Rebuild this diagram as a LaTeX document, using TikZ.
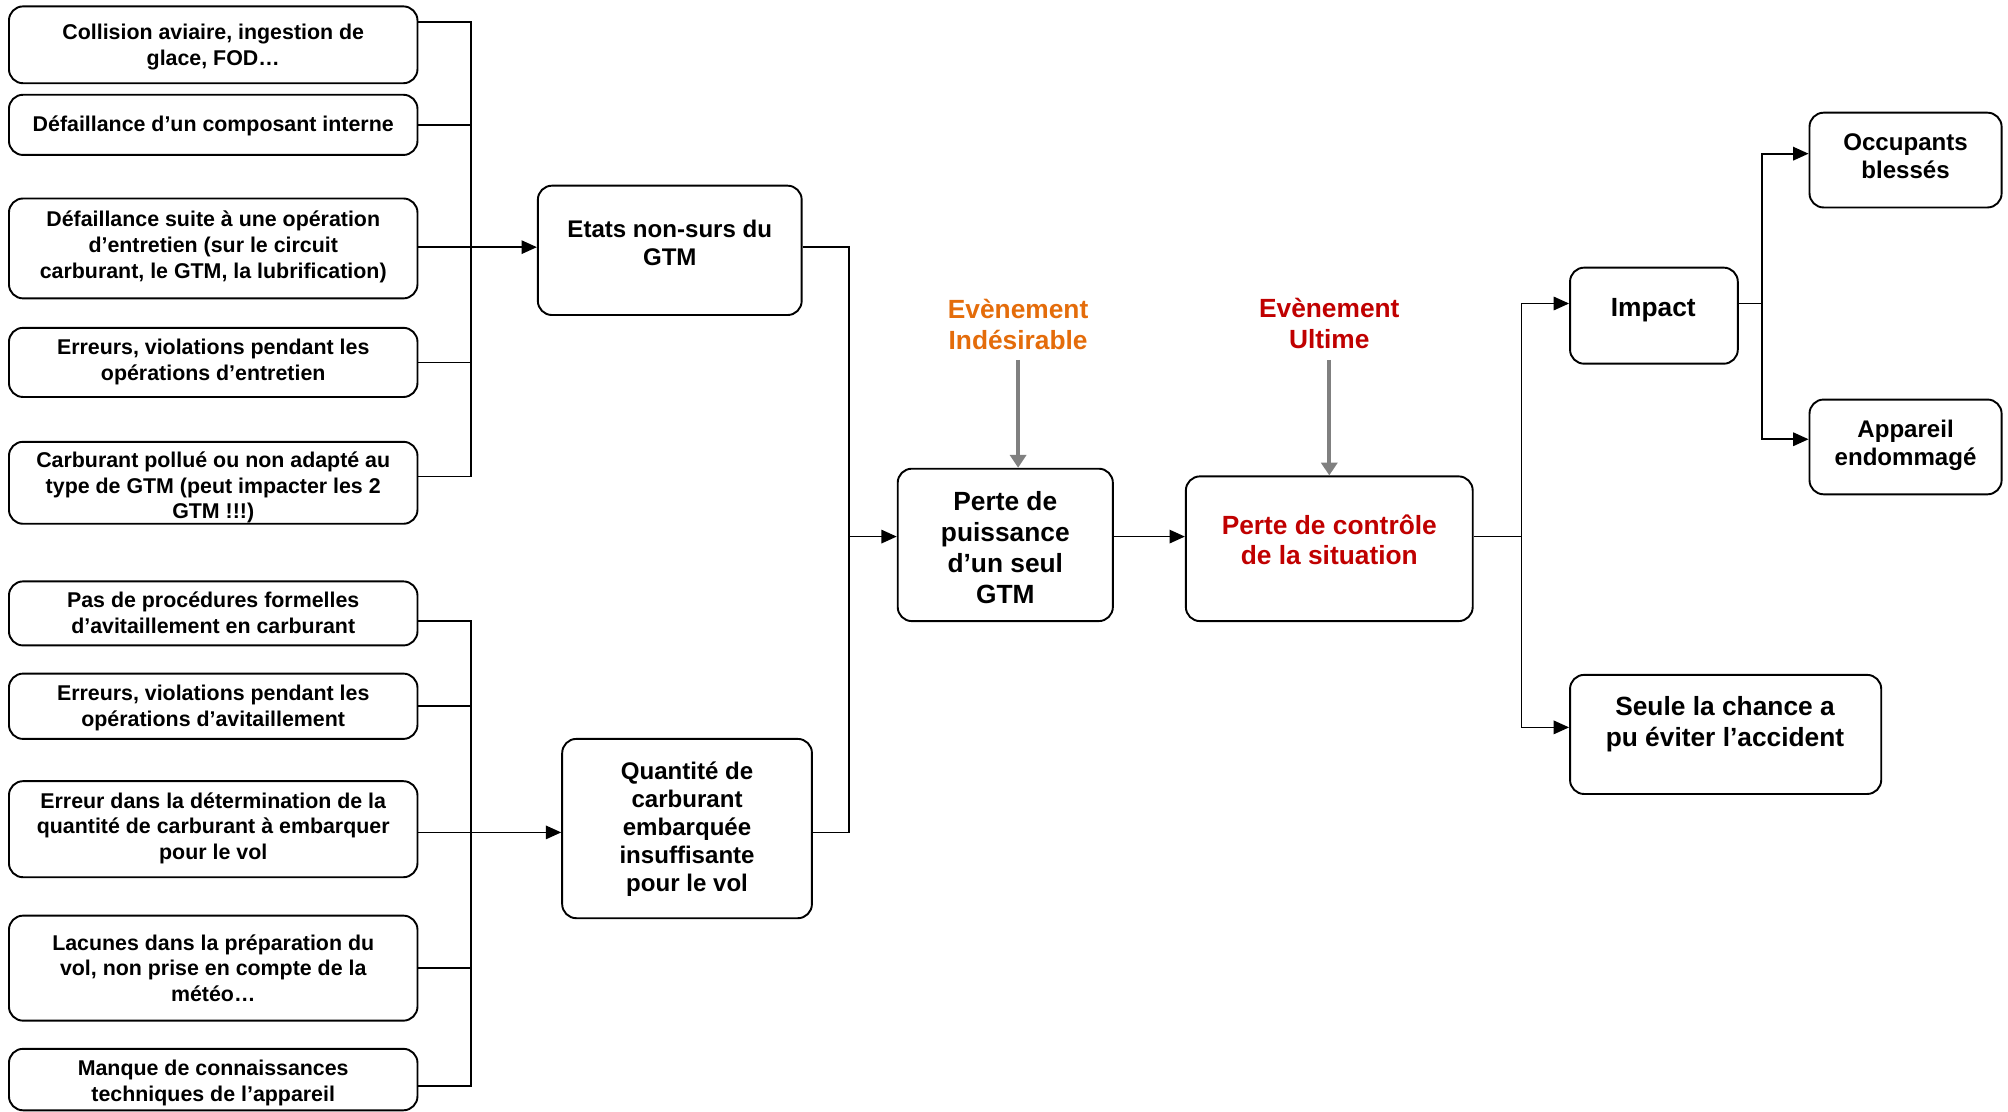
\documentclass[tikz,border=0pt]{standalone}
\usepackage{fontspec}
\setmainfont{Liberation Sans}
\usetikzlibrary{arrows.meta}

\definecolor{evorange}{HTML}{E46C0A}
\definecolor{evred}{HTML}{C00000}
\definecolor{evgray}{HTML}{808080}

\tikzset{
  box/.style={draw=black, line width=0.85pt, rounded corners=0.22cm, inner sep=0pt, fill=white},
  lbl/.style={inner sep=0pt, align=center, yshift=-0.08cm, execute at begin node=\strut, execute at end node=\strut},
  fs/.style={lbl, font=\fontsize{9.5}{11.4}\selectfont\bfseries},
  fm/.style={lbl, font=\fontsize{10.7}{12.5}\selectfont\bfseries},
  fl/.style={lbl, font=\fontsize{11.7}{13.7}\selectfont\bfseries},
  wire/.style={draw=black, line width=0.75pt},
  arrow/.style={wire, -{Triangle[length=0.24cm,width=0.21cm]}},
  grayarrow/.style={draw=evgray, line width=1.8pt, -{Triangle[length=0.2cm,width=0.25cm]}},
}

% rounded box from its two corners: name, x1, y1, x2, y2
\newcommand\mkbox[5]{%
  \node[box, minimum width={(#4-#2)*0.02cm}, minimum height={(#5-#3)*0.02cm}]
    (#1) at ({(#2+#4)/2},{(#3+#5)/2}) {};}

\begin{document}
\begin{tikzpicture}[x=0.02cm, y=-0.02cm]
\useasboundingbox (0,0) rectangle (1568,868);

% ---- causes, upper group
\mkbox{b1}{7}{5}{326}{65}
\mkbox{b2}{7}{74}{326}{121}
\mkbox{b3}{7}{155}{326}{233}
\mkbox{b4}{7}{256}{326}{310}
\mkbox{b5}{7}{345}{326}{409}
\node[fs] (t1) at (166.5,34) {Collision aviaire, ingestion de\\glace, FOD…};
\node[fs] (t2) at (166.5,95) {Défaillance d’un composant interne};
\node[fs] (t3) at (166.5,190) {Défaillance suite à une opération\\d’entretien (sur le circuit\\carburant, le GTM, la lubrification)};
\node[fs] (t4) at (166.5,280) {Erreurs, violations pendant les\\opérations d’entretien};
\node[fs] (t5) at (166.5,378) {Carburant pollué ou non adapté au\\type de GTM (peut impacter les 2\\GTM !!!)};

% ---- causes, lower group
\mkbox{b6}{7}{454}{326}{504}
\mkbox{b7}{7}{526}{326}{577}
\mkbox{b8}{7}{610}{326}{685}
\mkbox{b9}{7}{715}{326}{797}
\mkbox{b10}{7}{819}{326}{867}
\node[fs] (t6) at (166.5,477.5) {Pas de procédures formelles\\d’avitaillement en carburant};
\node[fs] (t7) at (166.5,550) {Erreurs, violations pendant les\\opérations d’avitaillement};
\node[fs] (t8) at (166.5,644) {Erreur dans la détermination de la\\quantité de carburant à embarquer\\pour le vol};
\node[fs] (t9) at (166.5,755) {Lacunes dans la préparation du\\vol, non prise en compte de la\\météo…};
\node[fs] (t10) at (166.5,843) {Manque de connaissances\\techniques de l’appareil};

% ---- intermediate states
\mkbox{etats}{420}{145}{626}{246}
\node[fm] (tetats) at (523,189) {Etats non-surs du\\GTM};
\mkbox{quant}{439}{577}{634}{717}
\node[fm] (tquant) at (536.5,645) {Quantité de\\carburant\\embarquée\\insuffisante\\pour le vol};

% ---- central events
\mkbox{perte}{701}{366}{869}{485}
\node[fl] (tperte) at (785,427) {Perte de\\puissance\\d’un seul\\GTM};
\mkbox{ctrl}{926}{372}{1150}{485}
\node[fl, text=evred] (tctrl) at (1038,421) {Perte de contrôle\\de la situation};
\node[fl, text=evorange] (evind) at (795,253) {Evènement\\Indésirable};
\node[fl, text=evred] (evult) at (1038,252) {Evènement\\Ultime};

% ---- consequences
\mkbox{impact}{1226}{209}{1357}{284}
\node[fl] (timpact) at (1291,238) {Impact};
\mkbox{seule}{1226}{527}{1469}{620}
\node[fl] (tseule) at (1347,563) {Seule la chance a\\pu éviter l’accident};
\mkbox{occ}{1413}{88}{1563}{162}
\node[fm] (tocc) at (1488,121) {Occupants\\blessés};
\mkbox{app}{1413}{312}{1563}{386}
\node[fm] (tapp) at (1488,345) {Appareil\\endommagé};

% ---- junction points
\coordinate (busT) at (368,193);
\coordinate (busB) at (368,650);
\coordinate (busC) at (663,419);
\coordinate (busD) at (1188,419);
\coordinate (busE) at (1376,237);
\coordinate (evindtail) at (795,281);
\coordinate (evulttail) at (1038,281);

% ---- upper tree
\draw[wire] (b1.east |- 0,17) -| (busT);
\draw[wire] (b2.east) -- (b2.east -| busT);
\draw[wire] (b4.east) -| (busT);
\draw[wire] (b5.east |- 0,372) -| (busT);
\draw[arrow] (b3.east |- busT) -- (etats.west |- busT);

% ---- lower tree
\draw[wire] (b6.east |- 0,485) -| (busB);
\draw[wire] (b7.east) -| (busB);
\draw[wire] (b9.east) -| (busB);
\draw[wire] (b10.east |- 0,848) -| (busB);
\draw[arrow] (b8.east |- busB) -- (quant.west |- busB);

% ---- towards the central events
\draw[wire] (etats.east |- busT) -| (busC);
\draw[wire] (quant.east |- busB) -| (busC);
\draw[arrow] (busC) -- (perte.west |- busC);
\draw[arrow] (perte.east |- busC) -- (ctrl.west |- busC);
\draw[grayarrow] (evindtail) -- (evindtail |- perte.north);
\draw[grayarrow] (evulttail) -- (evulttail |- ctrl.north);

% ---- consequences tree
\draw[wire] (ctrl.east |- busD) -- (busD);
\draw[arrow] (busD) |- (impact.west |- busE);
\draw[arrow] (busD) |- (seule.west |- 0,568);
\draw[wire] (impact.east |- busE) -- (busE);
\draw[arrow] (busE) |- (occ.west |- 0,120);
\draw[arrow] (busE) |- (app.west |- 0,343);
\end{tikzpicture}
\end{document}
